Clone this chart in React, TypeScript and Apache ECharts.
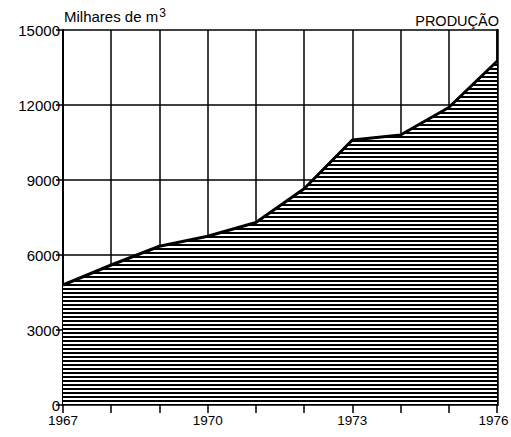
import React, { useEffect, useRef } from "react";
import * as echarts from "echarts";

const years = [1967, 1968, 1969, 1970, 1971, 1972, 1973, 1974, 1975, 1976];
const production = [4800, 5600, 6350, 6750, 7300, 8650, 10600, 10800, 11900, 13750];
const labeledYears = [1967, 1970, 1973, 1976];
const yTicks = [0, 3000, 6000, 9000, 12000, 15000];

const FONT = "Liberation Sans";

export default function App() {
  const ref = useRef<HTMLDivElement>(null);
  useEffect(() => {
    if (!ref.current) return;
    const chart = echarts.init(ref.current, undefined, { renderer: "svg" });
    const cv = document.createElement("canvas");
    cv.width = 4;
    cv.height = 4;
    const ctx = cv.getContext("2d")!;
    ctx.fillStyle = "#ffffff";
    ctx.fillRect(0, 0, 4, 4);
    ctx.fillStyle = "#000000";
    ctx.fillRect(0, 0, 4, 2);
    const url = cv.toDataURL();
    const data = years.map((y, i) => [y, production[i]]);
    const lastYear = labeledYears[labeledYears.length - 1];
    chart.setOption({
      animation: false,
      backgroundColor: "#ffffff",
      textStyle: { fontFamily: FONT, color: "#000" },
      grid: { left: 63, right: 14, top: 30, bottom: 32, containLabel: false, outerBoundsMode: "none" } as any,
      graphic: [
        {
          type: "text",
          left: 64,
          top: 7,
          style: {
            text: "Milhares de m{sup|3}",
            font: `15px ${FONT}`,
            fill: "#000",
            rich: { sup: { fontSize: 12, verticalAlign: "top", padding: [0, 0, 6, 1], fontFamily: FONT } },
          },
        },
        {
          type: "text",
          right: 12,
          top: 13,
          style: { text: "PRODUÇÃO", font: `14.5px ${FONT}`, fill: "#000" },
        },
      ],
      xAxis: {
        type: "value",
        min: 1967,
        max: 1976,
        interval: 1,
        axisLine: { show: false },
        axisTick: { show: true, length: 8, lineStyle: { color: "#000", width: 1.5 } },
        splitLine: { show: true, lineStyle: { color: "#000", width: 1.5 } },
        axisLabel: {
          color: "#000",
          fontSize: 13.5,
          fontFamily: FONT,
          margin: 8,
          formatter: (v: number) =>
            v === lastYear ? `{last|${v}}` : labeledYears.includes(v) ? String(v) : "",
          rich: { last: { fontSize: 13.5, fontFamily: FONT, color: "#000", padding: [0, 7, 0, 0] } },
        },
      },
      yAxis: [
        {
          type: "value",
          min: 0,
          max: 15000,
          interval: 3000,
          axisLine: { show: true, lineStyle: { color: "#000", width: 2 } },
          axisTick: { show: true, length: 7, lineStyle: { color: "#000", width: 1.5 } },
          splitLine: { show: true, lineStyle: { color: "#000", width: 1.5 } },
          axisLabel: {
            color: "#000",
            fontSize: 15,
            fontFamily: FONT,
            margin: 3,
            formatter: (v: number) => (yTicks.includes(v) ? String(v) : ""),
          },
        },
        {
          type: "value",
          position: "right",
          min: 0,
          max: 15000,
          interval: 3000,
          axisLine: { show: true, lineStyle: { color: "#000", width: 2.5 } },
          axisTick: { show: false },
          splitLine: { show: false },
          axisLabel: { show: false },
        },
      ],
      series: [
        {
          type: "line",
          data,
          showSymbol: false,
          symbol: "none",
          lineStyle: { color: "#000", width: 3 },
          areaStyle: {
            opacity: 1,
            color: { image: url, repeat: "repeat", imageWidth: 4, imageHeight: 4 } as any,
          },
          z: 3,
        },
      ],
    });
    return () => chart.dispose();
  }, []);
  return <div ref={ref} style={{ position: "fixed", left: 0, top: 0, width: 511, height: 437 }} />;
}
